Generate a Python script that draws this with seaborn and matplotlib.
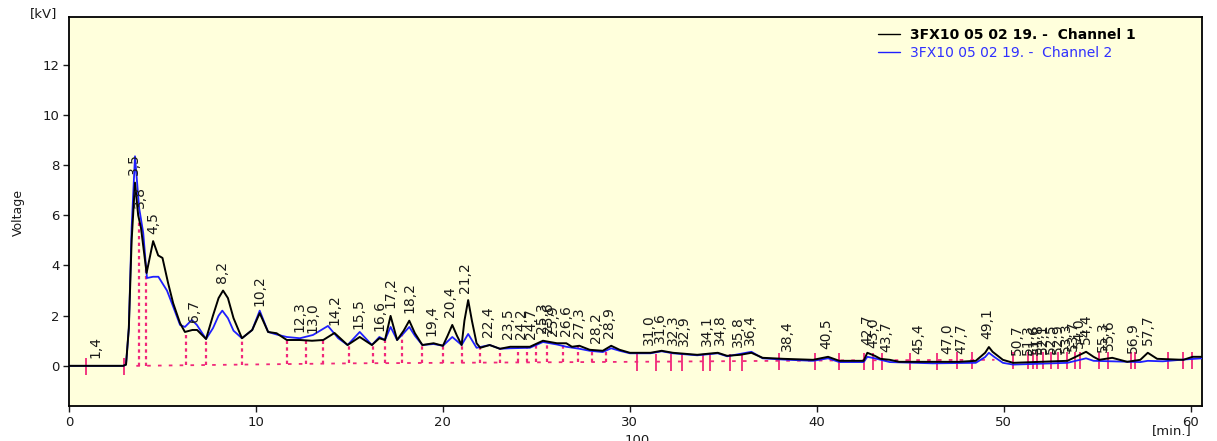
import matplotlib
matplotlib.use("Agg")
import matplotlib.pyplot as plt
import numpy as np
import seaborn as sns

## Data (time in min, voltage in kV)
ch1_t = [0.0, 2.9, 3.05, 3.2, 3.35, 3.53, 3.7, 3.85, 4.15, 4.5, 4.77, 5.0, 5.3, 5.57,
         5.94, 6.2, 6.6, 6.85, 7.33, 7.7, 8.0, 8.24, 8.5, 8.8, 9.25, 9.8, 10.2, 10.65,
         11.1, 11.65, 12.35, 13.0, 13.6, 14.2, 14.9, 15.55, 16.2, 16.6, 16.9, 17.2,
         17.55, 17.9, 18.2, 18.5, 18.9, 19.5, 20.0, 20.25, 20.5, 20.75, 21.0, 21.15,
         21.35, 21.55, 21.8, 22.0, 22.5, 23.05, 23.6, 24.65, 25.35, 26.1, 26.6, 26.9,
         27.3, 27.85, 28.55, 29.0, 29.45, 30.0, 30.4, 31.1, 31.7, 32.3, 33.6, 34.7,
         35.2, 35.9, 36.5, 37.1, 38.2, 39.8, 40.6, 41.2, 42.5, 42.7, 43.1, 43.4, 43.9,
         44.4, 46.2, 47.6, 48.5, 49.0, 49.2, 49.4, 49.95, 50.5, 53.4, 54.4, 54.8, 55.1,
         55.8, 56.6, 57.3, 57.7, 58.2, 59.6, 60.1, 60.6]
ch1_v = [0.0, 0.0, 0.05, 1.5, 5.0, 7.3, 6.0, 5.5, 3.7, 4.97, 4.4, 4.3, 3.3, 2.5,
         1.7, 1.35, 1.43, 1.43, 1.07, 2.0, 2.7, 3.0, 2.7, 1.9, 1.1, 1.43, 2.1, 1.35,
         1.3, 1.03, 1.03, 1.0, 1.03, 1.31, 0.83, 1.15, 0.83, 1.1, 1.03, 1.99,
         1.03, 1.4, 1.8, 1.3, 0.83, 0.9, 0.8, 1.2, 1.63, 1.2, 0.83, 1.8,
         2.62, 1.8, 0.9, 0.72, 0.83, 0.68, 0.76, 0.76, 1.0, 0.9, 0.9, 0.76,
         0.8, 0.64, 0.6, 0.8, 0.64, 0.52, 0.52, 0.52, 0.6, 0.52, 0.44, 0.52,
         0.4, 0.44, 0.52, 0.32, 0.28, 0.24, 0.36, 0.2, 0.2, 0.52, 0.4, 0.28, 0.24,
         0.16, 0.16, 0.16, 0.2, 0.52, 0.75, 0.56, 0.24, 0.12, 0.2, 0.56, 0.36, 0.24,
         0.32, 0.16, 0.24, 0.52, 0.28, 0.24, 0.36, 0.36]

ch2_t = [0.0, 2.9, 3.05, 3.2, 3.35, 3.53, 3.75, 3.97, 4.17, 4.5, 4.78, 5.24, 5.5, 5.94,
         6.2, 6.57, 6.84, 7.33, 7.7, 8.0, 8.2, 8.5, 8.8, 9.25, 9.8, 10.2, 10.65, 11.1,
         11.65, 12.35, 13.05, 13.85, 14.4, 14.9, 15.55, 16.2, 16.6, 16.9, 17.2, 17.55,
         17.9, 18.2, 18.5, 18.9, 19.5, 20.0, 20.5, 21.0, 21.35, 21.8, 22.5, 23.05,
         23.6, 24.65, 25.35, 26.1, 26.6, 27.3, 27.85, 28.55, 29.0, 29.45, 30.0, 31.1,
         31.7, 32.3, 33.6, 34.7, 35.2, 36.5, 37.1, 38.2, 39.8, 40.6, 41.2, 42.5, 42.7,
         43.1, 43.9, 46.2, 48.5, 49.0, 49.2, 49.5, 49.95, 50.5, 53.4, 54.4, 54.8, 57.3,
         57.7, 58.5, 59.6, 60.6]
ch2_v = [0.0, 0.0, 0.05, 1.5, 5.5, 8.35, 6.3, 5.3, 3.5, 3.55, 3.55, 3.0, 2.5, 1.63,
         1.55, 1.83, 1.63, 1.07, 1.5, 2.0, 2.2, 1.9, 1.4, 1.1, 1.43, 2.2, 1.35, 1.25,
         1.15, 1.1, 1.23, 1.59, 1.1, 0.83, 1.35, 0.83, 1.15, 1.03, 1.55, 1.03,
         1.3, 1.55, 1.2, 0.83, 0.87, 0.8, 1.15, 0.83, 1.27, 0.72, 0.83, 0.68,
         0.7, 0.72, 0.95, 0.85, 0.76, 0.68, 0.6, 0.55, 0.7, 0.6, 0.5, 0.5,
         0.58, 0.5, 0.42, 0.5, 0.38, 0.56, 0.3, 0.25, 0.2, 0.3, 0.15, 0.15, 0.36,
         0.3, 0.15, 0.1, 0.12, 0.35, 0.52, 0.35, 0.12, 0.05, 0.12, 0.3, 0.2, 0.15,
         0.2, 0.18, 0.25, 0.3]

# integration baseline
base_t = [3.6, 15.0, 30.0, 42.0, 49.5]
base_v = [0.0, 0.1, 0.16, 0.22, 0.24]

# peak boundaries drawn as dotted drops to the baseline
valley_t = [3.76, 4.1, 6.26, 7.33, 9.25, 11.66, 12.7, 13.6, 15.0, 16.25, 16.9, 17.8,
            18.9, 20.0, 21.0, 22.0, 23.05, 24.0, 24.5, 25.0, 25.55, 26.4, 27.2, 28.0, 28.7]
# peak boundaries drawn as short ticks
tick_t = [0.9, 2.95, 30.4, 31.4, 32.2, 32.8, 33.9, 34.3, 35.35, 36.0, 38.0, 39.9, 41.2,
          42.5, 43.0, 43.5, 45.0, 46.4, 47.5, 48.3, 50.5, 51.3, 51.55, 51.8, 52.1, 52.55,
          52.9, 53.4, 53.8, 54.1, 55.1, 55.55, 56.8, 57.0, 58.8, 59.6, 60.05]

# retention times of labelled peaks
peak_t = [1.4, 3.5, 3.8, 4.5, 6.7, 8.2, 10.2, 12.3, 13.0, 14.2, 15.5, 16.6, 17.2, 18.2,
          19.4, 20.4, 21.2, 22.4, 23.5, 24.2, 24.7, 25.3, 25.6, 25.9, 26.6, 27.3, 28.2,
          28.9, 31.0, 31.6, 32.3, 32.9, 34.1, 34.8, 35.8, 36.4, 38.4, 40.5, 42.7, 43.0,
          43.7, 45.4, 47.0, 47.7, 49.1, 50.7, 51.3, 51.6, 51.8, 52.1, 52.5, 52.9, 53.3,
          53.7, 54.0, 54.4, 55.3, 55.6, 56.9, 57.7]

legend_1 = "3FX10 05 02 19. -  Channel 1"
legend_2 = "3FX10 05 02 19. -  Channel 2"

PINK = "#f0287a"

sns.set_theme(style="ticks")
plt.rcParams["font.family"] = ["DejaVu Sans"]

fig = plt.figure(figsize=(12.17, 4.41), dpi=100)
fig.patch.set_facecolor("white")
ax = fig.add_axes([69 / 1217, 1 - 406 / 441, (1202 - 69) / 1217, (406 - 17) / 441])
ax.set_facecolor("#ffffdc")

## Curves
sns.lineplot(x=ch1_t, y=ch1_v, color="black", linewidth=1.4, label=legend_1, ax=ax, zorder=4)
sns.lineplot(x=ch2_t, y=ch2_v, color="#1f1fff", linewidth=1.3, label=legend_2, ax=ax, zorder=3)

## Integration marks
ax.plot(base_t, base_v, color=PINK, linestyle=(0, (2, 4)), linewidth=1.3, zorder=2)
v_base = np.interp(valley_t, base_t, base_v)
v_top = np.interp(valley_t, ch1_t, ch1_v)
ax.vlines(valley_t, v_base, v_top, colors=PINK, linestyles=(0, (1.5, 1.5)), linewidth=1.6, zorder=2)
t_base = np.interp(tick_t, base_t, base_v)
ax.vlines(tick_t, t_base - 0.38, t_base + 0.3, colors=PINK, linewidth=1.3, zorder=2)

## Peak labels
ch1_t_arr = np.array(ch1_t)
ch1_v_arr = np.array(ch1_v)
for t in peak_t:
    near = ch1_v_arr[np.abs(ch1_t_arr - t) <= 0.25]
    top = near.max() if len(near) else np.interp(t, ch1_t, ch1_v)
    ax.text(t, top + 0.3, f"{t:.1f}".replace(".", ","), rotation=90, ha="center", va="bottom",
            fontsize=10, color="#1a1a1a", zorder=5)

## Axes style
ax.set_xlim(0, 60.6)
ax.set_ylim(-1.6, 13.9)
ax.set_xticks(range(0, 61, 10))
ax.set_yticks(range(0, 13, 2))
ax.tick_params(axis="both", direction="out", length=4, width=1, labelsize=9.5, colors="#1a1a1a", pad=3)
for s in ax.spines.values():
    s.set_color("black")
    s.set_linewidth(1.3)
ax.set_xlabel("")
ax.set_ylabel("")

fig.text(44 / 1217, 1 - 14 / 441, "[kV]", ha="center", va="center", fontsize=9.5, color="#1a1a1a")
fig.text(18 / 1217, 1 - 213 / 441, "Voltage", ha="center", va="center", rotation=90, fontsize=9, color="#1a1a1a")
fig.text(1192 / 1217, 1 - 431 / 441, "[min.]", ha="right", va="center", fontsize=9.5, color="#1a1a1a")
fig.text(637 / 1217, 1 - 440 / 441, "100", ha="center", va="center", fontsize=9.5, color="#1a1a1a")

## Legend
leg = ax.legend(loc="upper left", bbox_to_anchor=(0.703, 1.005), frameon=False, handlelength=1.6,
                handletextpad=0.7, labelspacing=0.3, prop={"family": "DejaVu Sans", "size": 10})
for line in leg.get_lines():
    line.set_linewidth(1.0)
leg.get_texts()[0].set_fontweight("bold")
leg.get_texts()[0].set_color("black")
leg.get_texts()[1].set_color("#3030ff")

fig.savefig("out.png", dpi=100)
